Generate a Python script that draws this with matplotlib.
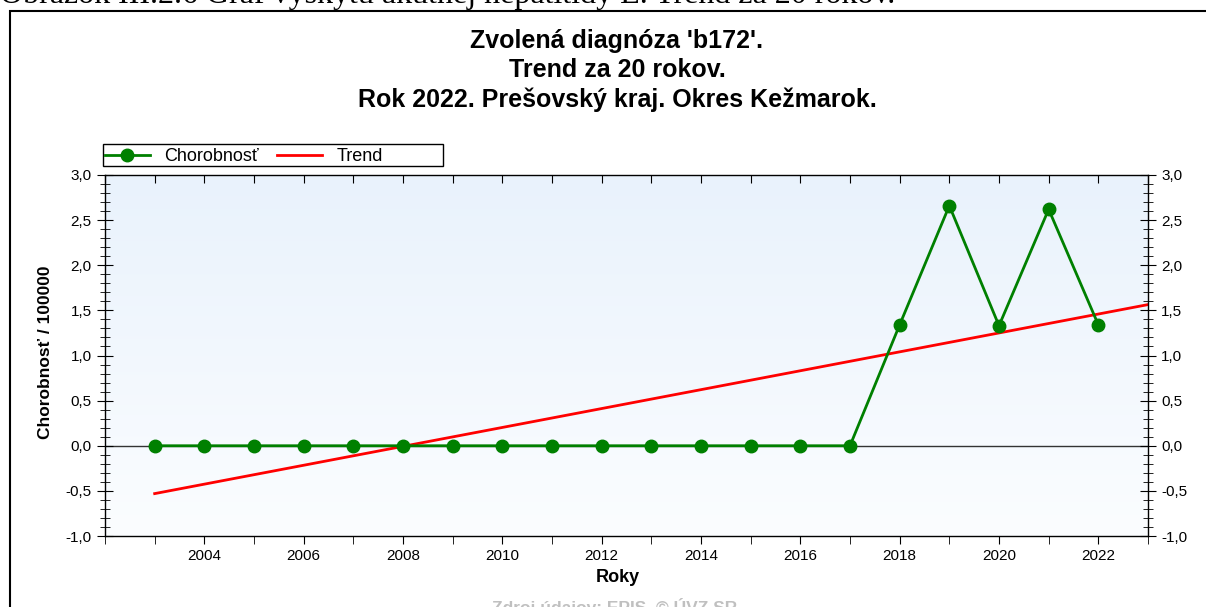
import numpy as np
import matplotlib
matplotlib.use('Agg')
import matplotlib.pyplot as plt
from matplotlib.patches import Rectangle
from matplotlib.ticker import MultipleLocator, FixedLocator, FuncFormatter
from matplotlib.colors import LinearSegmentedColormap

plt.rcParams['font.family'] = ['Liberation Sans', 'DejaVu Sans']

years = np.arange(2003, 2023)
chorobnost = [0, 0, 0, 0, 0, 0, 0, 0, 0, 0, 0, 0, 0, 0, 0,
              1.34, 2.66, 1.33, 2.62, 1.34]
trend_years = [2003, 2023]
year_labels = list(range(2004, 2023, 2))

title_str = "Zvolená diagnóza 'b172'.\nTrend za 20 rokov.\nRok 2022. Prešovský kraj. Okres Kežmarok."
caption_str = "Obrázok III.2.6 Graf výskytu akútnej hepatitídy E. Trend za 20 rokov."
source_str = "Zdroj údajov: EPIS, © ÚVZ SR"

# linear trend of the series
k, q = np.polyfit(years, chorobnost, 1)
trend_vals = [k * x + q for x in trend_years]

fig = plt.figure(figsize=(12.06, 6.07), dpi=100)
ax = fig.add_axes([105/1206, 71/607, 1043/1206, 361/607])

# light blue gradient background
cmap = LinearSegmentedColormap.from_list('bg', ['#fbfdff', '#e9f2fc'])
grad = np.linspace(0, 1, 256).reshape(-1, 1)
ax.imshow(grad, cmap=cmap, aspect='auto', extent=[0, 1, 0, 1], origin='lower',
          transform=ax.transAxes, zorder=0)

ax.axhline(0, color='#333333', lw=1, zorder=1)
ax.plot(years, chorobnost, '-o', color='#008000', lw=2, ms=9, label='Chorobnosť', zorder=3)
ax.plot(trend_years, trend_vals, '-', color='#ff0000', lw=2, label='Trend', zorder=2)

ax.set_xlim(2002, 2023)
ax.set_ylim(-1.0, 3.0)

ax.xaxis.set_major_locator(FixedLocator(year_labels))
ax.xaxis.set_minor_locator(MultipleLocator(1))
ax.tick_params(axis='x', which='both', direction='out', length=6, labelsize=11, colors='black')

ax.yaxis.set_major_locator(MultipleLocator(0.5))
ax.yaxis.set_minor_locator(MultipleLocator(0.1))
ax.yaxis.set_major_formatter(FuncFormatter(lambda v, p: ('%.1f' % v).replace('.', ',')))
ax.tick_params(axis='y', which='both', direction='inout', left=True, right=True,
               labelleft=True, labelright=True, labelsize=11)
ax.tick_params(axis='y', which='major', length=12)
ax.tick_params(axis='y', which='minor', length=7)

top = ax.secondary_xaxis('top')
top.xaxis.set_major_locator(MultipleLocator(1))
top.tick_params(direction='in', length=6, labeltop=False)
top.spines['top'].set_visible(False)

for s in ax.spines.values():
    s.set_color('black')
    s.set_linewidth(1)

ax.set_xlabel('Roky', fontsize=13, fontweight='bold')
ax.xaxis.set_label_coords(0.492, -0.116)
ax.xaxis.label.set_va('center')
ax.set_ylabel('Chorobnosť / 100000', fontsize=12.5, fontweight='bold')
ax.yaxis.set_label_coords(-0.0575, 0.51)
ax.yaxis.label.set_va('center')

fig.text(617/1206, 1 - 29/607, title_str, ha='center', va='top', fontsize=18,
         fontweight='bold', linespacing=1.27)

leg = fig.legend(loc='lower left', bbox_to_anchor=(103/1206, (607-167)/607), ncol=2,
                 frameon=False, fontsize=13, handlelength=2.5,
                 handletextpad=0.8, columnspacing=1.0, borderpad=0.1, borderaxespad=0)
# legend box is wider than its entries
fig.add_artist(Rectangle((103/1206, (607-166)/607), 340/1206, 22/607, fill=False,
                         edgecolor='black', lw=1, transform=fig.transFigure))

fig.text(0, 1 - 3.5/607, caption_str, ha='left', va='baseline', fontsize=23,
         family='Liberation Serif')
fig.text(615/1206, 9/607, source_str, ha='center', va='top', fontsize=12.5,
         fontweight='bold', color='#c0c0c0')

fig.add_artist(Rectangle((10/1206, -0.1), 1.2, 1.1 - 10.5/607, fill=False,
                         edgecolor='black', lw=1.5, transform=fig.transFigure))

fig.savefig('out.png', dpi=100)
